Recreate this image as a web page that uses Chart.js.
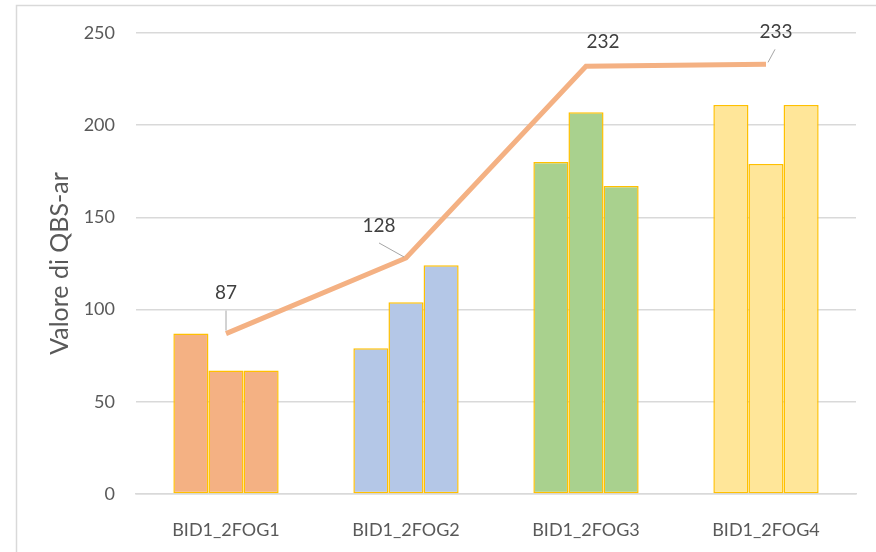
<!DOCTYPE html>
<html>
<head>
<meta charset="utf-8">
<script src="https://cdn.jsdelivr.net/npm/chart.js@4"></script>
<style>
  html, body { margin: 0; padding: 0; background: #fff; }
  #wrap { width: 876px; height: 552px; }
</style>
</head>
<body>
<div id="wrap"><canvas id="chart" width="876" height="552"></canvas></div>
<script>
// categories and values
const categories = ['BID1_2FOG1', 'BID1_2FOG2', 'BID1_2FOG3', 'BID1_2FOG4'];
const barA = [87, 79, 180, 211];
const barB = [67, 104, 207, 179];
const barC = [67, 124, 167, 211];
const totals = [87, 128, 232, 233];
const yTicks = [0, 50, 100, 150, 200, 250];

const groupColors = ['#F4B183', '#B4C7E7', '#A9D18E', '#FFE699'];
const textColor = '#595959';
const font = 'Lato, "Open Sans", sans-serif';

// where each data label sits relative to its point, plus its leader line
const labelOffsets = [
  { dx: 0, dy: -41, leader: [[0, -23], [0, -3]] },
  { dx: -27, dy: -32, leader: [[-27, -15], [-2, -1]] },
  { dx: 17, dy: -24, leader: null },
  { dx: 10, dy: -32, leader: [[9, -15], [2, -2]] }
];

const frame = {
  id: 'frame',
  beforeDraw(chart) {
    const c = chart.ctx;
    c.save();
    c.fillStyle = '#fff';
    c.fillRect(0, 0, chart.width, chart.height);
    c.strokeStyle = '#d9d9d9';
    c.lineWidth = 1.5;
    c.beginPath();
    c.moveTo(16.5, chart.height);
    c.lineTo(16.5, 5.5);
    c.lineTo(chart.width, 5.5);
    c.stroke();
    c.restore();
  }
};

const lineLabels = {
  id: 'lineLabels',
  afterDatasetsDraw(chart) {
    const meta = chart.getDatasetMeta(3);
    const c = chart.ctx;
    c.save();
    meta.data.forEach((pt, i) => {
      const o = labelOffsets[i];
      if (o.leader) {
        c.strokeStyle = '#a6a6a6';
        c.lineWidth = 1;
        c.beginPath();
        c.moveTo(pt.x + o.leader[0][0], pt.y + o.leader[0][1]);
        c.lineTo(pt.x + o.leader[1][0], pt.y + o.leader[1][1]);
        c.stroke();
      }
      c.fillStyle = '#404040';
      c.font = '19px ' + font;
      c.textAlign = 'center';
      c.textBaseline = 'middle';
      c.fillText(String(totals[i]), pt.x + o.dx, pt.y + o.dy);
    });
    c.restore();
  }
};

function barSet(values) {
  return {
    type: 'bar',
    data: values,
    backgroundColor: groupColors,
    borderColor: '#FFC000',
    borderWidth: 1.5,
    borderSkipped: false,
    barPercentage: 1,
    categoryPercentage: 0.585,
    order: 2
  };
}

new Chart(document.getElementById('chart'), {
  data: {
    labels: categories,
    datasets: [
      barSet(barA),
      barSet(barB),
      barSet(barC),
      {
        type: 'line',
        data: totals,
        borderColor: '#F4B183',
        borderWidth: 5,
        pointRadius: 0,
        tension: 0,
        fill: false,
        order: 1
      }
    ]
  },
  options: {
    responsive: false,
    animation: false,
    layout: { padding: { top: 33, right: 20, bottom: 0, left: 45 } },
    plugins: {
      legend: { display: false },
      tooltip: { enabled: false }
    },
    scales: {
      x: {
        grid: { display: false },
        border: { color: '#d9d9d9', width: 1.5 },
        ticks: { color: textColor, font: { family: font, size: 18 }, padding: 17 },
        afterFit(s) { s.height = 58; }
      },
      y: {
        min: 0,
        max: 250,
        afterBuildTicks(s) { s.ticks = yTicks.map(v => ({ value: v })); },
        grid: { color: '#d9d9d9', lineWidth: 1.5, drawTicks: false },
        border: { display: false },
        ticks: { color: textColor, font: { family: font, size: 18 }, padding: 21 },
        title: {
          display: true,
          text: 'Valore di QBS-ar',
          color: textColor,
          font: { family: font, size: 25 },
          padding: 0
        },
        afterFit(s) { s.width = 91; }
      }
    }
  },
  plugins: [frame, lineLabels]
});
</script>
</body>
</html>
